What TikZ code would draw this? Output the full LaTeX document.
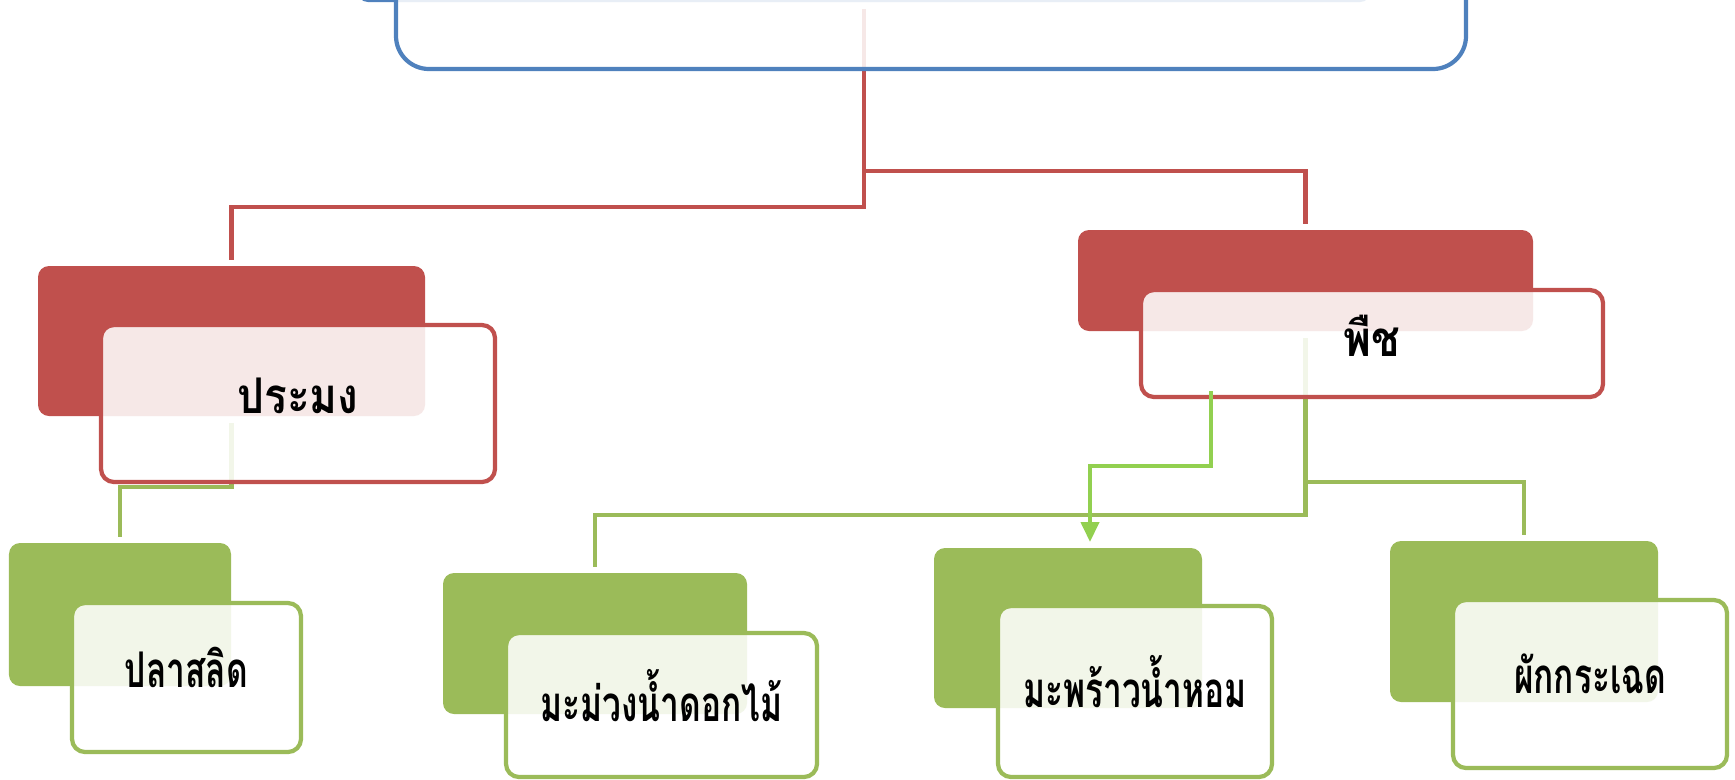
\documentclass[tikz,border=0pt]{standalone}
\usepackage{fontspec}
\newfontfamily\thaifont[Script=Thai,FakeStretch=0.86]{Loma}
\newfontfamily\thainarrow[Script=Thai,FakeStretch=0.68]{Loma}
\usetikzlibrary{positioning,arrows.meta}

\definecolor{accblue}{HTML}{4F81BD}
\definecolor{accred}{HTML}{C0504D}
\definecolor{accgreen}{HTML}{9BBB59}
\definecolor{brightgreen}{HTML}{92D050}

\tikzset{
  backbox/.style={rectangle,rounded corners=0.11cm,inner sep=0pt,outer sep=0pt,below right},
  frontbox/.style={rectangle,rounded corners=0.13cm,line width=1.2pt,fill=white,fill opacity=0.87,
    text opacity=1,inner sep=0pt,outer sep=0pt,below right},
  link/.style={line width=1.15pt,shorten <=0.07cm,shorten >=0.06cm},
  toplabel/.style={font=\thaifont\bfseries\fontsize{14pt}{16pt}\selectfont,text depth=0.15cm},
  leaflabel/.style={font=\thainarrow\bfseries\fontsize{14pt}{16pt}\selectfont,text depth=0.2cm}
}

\begin{document}
\begin{tikzpicture}[x=1cm,y=1cm]
      \useasboundingbox (0,0) rectangle (17.35,-7.79);
      \clip (0,0) rectangle (17.35,-7.79);

      % connectors (under the boxes)
      \coordinate (rootbottom) at (8.64,-0.02);
      \draw[accred,link] (rootbottom) -- ++(0,-2.05) -| (2.315,-2.66) coordinate (fishtop);
      \draw[accred,link] (rootbottom) -- ++(0,-1.69) -| (13.055,-2.30) coordinate (planttop);
      \draw[accgreen,link] (2.315,-4.16) coordinate (fishbottom) -- ++(0,-0.71) -| (1.20,-5.43) coordinate (salidtop);
      \draw[accgreen,link] (13.055,-3.31) coordinate (plantbottom) -- ++(0,-1.84) -| (5.95,-5.73) coordinate (mangotop);
      \draw[accgreen,link] (plantbottom) -- ++(0,-1.51) -| (15.24,-5.41) coordinate (mimosatop);

      % top level
      \node[backbox,fill=accblue,minimum width=10.14cm,minimum height=1.22cm] (rootback) at (3.57,1.20) {};
      \node[frontbox,draw=accblue,rounded corners=0.33cm,minimum width=10.70cm,minimum height=1.69cm] (rootfront) at (3.96,1.00) {};

      % second level
      \node[backbox,fill=accred,minimum width=3.87cm,minimum height=1.50cm] (fishback) at (0.38,-2.66) {};
      \node[frontbox,draw=accred,toplabel,minimum width=3.94cm,minimum height=1.57cm] (fishfront) at (1.01,-3.25) {ประมง};
      \node[backbox,fill=accred,minimum width=4.55cm,minimum height=1.01cm] (plantback) at (10.78,-2.30) {};
      \node[frontbox,draw=accred,toplabel,minimum width=4.62cm,minimum height=1.07cm] (plantfront) at (11.41,-2.90) {พืช};

      % third level
      \node[backbox,fill=accgreen,minimum width=2.22cm,minimum height=1.43cm] (salidback) at (0.09,-5.43) {};
      \node[frontbox,draw=accgreen,leaflabel,minimum width=2.29cm,minimum height=1.49cm] (salidfront) at (0.72,-6.03) {ปลาสลิด};
      \node[backbox,fill=accgreen,minimum width=3.04cm,minimum height=1.41cm] (mangoback) at (4.43,-5.73) {};
      \node[frontbox,draw=accgreen,leaflabel,minimum width=3.11cm,minimum height=1.44cm] (mangofront) at (5.06,-6.33) {มะม่วงน้ำดอกไม้};
      \node[backbox,fill=accgreen,minimum width=2.68cm,minimum height=1.60cm] (coconutback) at (9.34,-5.48) {};
      \node[frontbox,draw=accgreen,leaflabel,minimum width=2.74cm,minimum height=1.71cm] (coconutfront) at (9.98,-6.06) {มะพร้าวน้ำหอม};
      \node[backbox,fill=accgreen,minimum width=2.68cm,minimum height=1.61cm] (mimosaback) at (13.90,-5.41) {};
      \node[frontbox,draw=accgreen,leaflabel,minimum width=2.74cm,minimum height=1.68cm] (mimosafront) at (14.53,-6.00) {ผักกระเฉด};

      % arrow plant -> coconut
      \coordinate (arrowstart) at (12.11,-3.91);
      \coordinate (arrowend) at (10.90,-5.42);
      \draw[brightgreen,line width=1.15pt,-{Triangle[width=0.18cm,length=0.2cm]}] (arrowstart) -- ++(0,-0.75) -| (arrowend);

   \end{tikzpicture}
\end{document}
